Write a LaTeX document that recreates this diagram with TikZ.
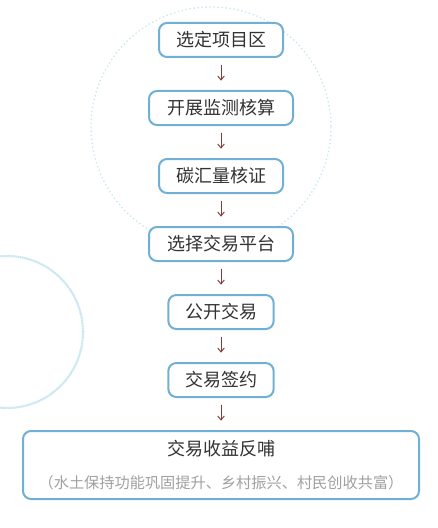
\documentclass[tikz,border=0pt]{standalone}
\usepackage{fontspec}
\setmainfont{Noto Sans CJK SC}
\usetikzlibrary{arrows.meta,positioning}

\definecolor{boxblue}{RGB}{112,176,212}
\definecolor{ringblue}{RGB}{200,230,241}
\definecolor{arrowred}{RGB}{128,60,60}
\definecolor{textgray}{RGB}{51,51,51}
\definecolor{subgray}{RGB}{160,160,160}

\begin{document}
\begin{tikzpicture}[
  x=0.75pt, y=-0.75pt,
  node distance=24pt,
  stepbox/.style={draw=boxblue, line width=1.5pt, rounded corners=6pt, fill=white,
                  text=textgray, minimum height=25.5pt, inner sep=2pt, align=center,
                  font=\fontsize{13.5pt}{16pt}\selectfont},
  flow/.style={-{Straight Barb[length=3pt,width=5pt]}, line width=0.7pt, draw=arrowred,
               shorten <=5pt, shorten >=7pt}
]
\useasboundingbox (0,0) rectangle (438,528);
\clip (0,0) rectangle (438,528);

% decorative rings
\draw[ringblue, line width=1pt, dotted] (211,127) circle [radius=120];
\draw[ringblue, line width=1.6pt, dash pattern=on 1.2pt off 0.4pt] (7,332) circle [radius=76];

% steps
\node[stepbox, minimum width=93pt] (area) at (221,40) {选定项目区};
\node[stepbox, minimum width=108pt, below=of area] (monitor) {开展监测核算};
\node[stepbox, minimum width=93pt, below=of monitor] (verify) {碳汇量核证};
\node[stepbox, minimum width=108pt, below=of verify] (platform) {选择交易平台};
\node[stepbox, minimum width=79pt, below=of platform] (trade) {公开交易};
\node[stepbox, minimum width=79pt, below=of trade] (sign) {交易签约};
\node[stepbox, minimum width=297pt, minimum height=51pt, below=of sign] (feed)
  {交易收益反哺\\[9pt]{\color{subgray}\fontsize{11.4pt}{13pt}\selectfont （水土保持功能巩固提升、乡村振兴、村民创收共富）}};

\draw[flow] (area) -- (monitor);
\draw[flow] (monitor) -- (verify);
\draw[flow] (verify) -- (platform);
\draw[flow] (platform) -- (trade);
\draw[flow] (trade) -- (sign);
\draw[flow] (sign) -- (feed);
\end{tikzpicture}
\end{document}
